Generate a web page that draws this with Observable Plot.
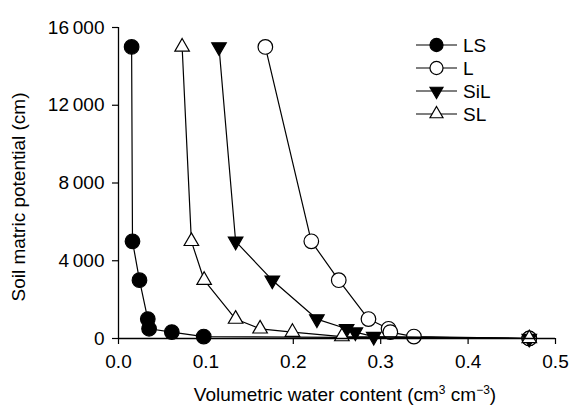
<!DOCTYPE html>
<html><head><meta charset="utf-8">
<script src="https://cdn.jsdelivr.net/npm/d3@7"></script>
<script src="https://cdn.jsdelivr.net/npm/@observablehq/plot@0.6"></script>
<style>
body{margin:0;background:#fff;font-family:"Liberation Sans",Arial,sans-serif}
#chart{position:relative;width:575px;height:407px}
#chart svg{display:block}
#overlay{position:absolute;left:0;top:0;pointer-events:none}
</style>
</head><body><div id="chart"></div>
<script>
// Soil textures (series)
const soils = ["LS", "L", "SiL", "SL"];
// Soil matric potential (cm) at each measured point
const potential = [15000, 5000, 3000, 1000, 500, 330, 100, 0];
// Volumetric water content (cm3 cm-3) per soil, same order as potential
const thetaLS  = [0.015, 0.016, 0.024, 0.0335, 0.035, 0.061, 0.0975, 0.47];
const thetaL   = [0.168, 0.2206, 0.252, 0.286, 0.309, 0.311, 0.338, 0.47];
const thetaSiL = [0.115, 0.134, 0.176, 0.227, 0.261, 0.271, 0.292, 0.47];
const thetaSL  = [0.0728, 0.0834, 0.098, 0.134, 0.162, 0.199, 0.2556, 0.47];
// Axis ticks
const xTicks = [0, 0.1, 0.2, 0.3, 0.4, 0.5];
const yTicks = [0, 4000, 8000, 12000, 16000];

const thetaBySoil = {LS: thetaLS, L: thetaL, SiL: thetaSiL, SL: thetaSL};
const data = soils.flatMap(s => thetaBySoil[s].map((t, i) => ({soil: s, theta: t, h: potential[i]})));

const markerStyle = {
  LS:  {symbol: "circle",   fill: "black", r: 7.3, rotate: 0},
  L:   {symbol: "circle",   fill: "white", r: 7.3, rotate: 0},
  SiL: {symbol: "triangle", fill: "black", r: 5.4, rotate: 180},
  SL:  {symbol: "triangle", fill: "white", r: 5.4, rotate: 0}
};

const W = 575, H = 407;
const font = "'Liberation Sans', Arial, sans-serif";
const fmtY = d => d3.format(",")(d).replace(/,/g, "\u2009");

const seriesMarks = soils.flatMap(s => {
  const rows = data.filter(d => d.soil === s);
  const st = markerStyle[s];
  return [
    Plot.line(rows, {x: "theta", y: "h", stroke: "black", strokeWidth: 1.2}),
    Plot.dot(rows, {x: "theta", y: "h", symbol: () => st.symbol, r: st.r, fill: st.fill,
      stroke: "black", strokeWidth: 1.2, rotate: st.rotate})
  ];
});

const plot = Plot.plot({
  width: W, height: H,
  marginLeft: 118, marginRight: 20, marginTop: 27, marginBottom: 69,
  style: {fontFamily: font, fontSize: "19px", color: "black", background: "white", overflow: "visible"},
  x: {domain: [0, 0.5]},
  y: {domain: [0, 16000]},
  symbol: {type: "identity"},
  marks: [
    Plot.axisX({ticks: xTicks, tickFormat: d3.format(".1f"), tickSize: 6, tickPadding: 10, label: null, fontSize: 19, strokeWidth: 1.2}),
    Plot.axisY({ticks: yTicks, tickFormat: fmtY, tickSize: 6, tickPadding: 8, label: null, fontSize: 19, strokeWidth: 1.2}),
    Plot.ruleX([0], {stroke: "black", strokeWidth: 1.3}),
    ...seriesMarks,
    Plot.ruleY([0], {stroke: "black", strokeWidth: 1.3})
  ]
});
document.getElementById("chart").appendChild(plot);

// Overlay: axis titles with superscripts, and legend
const svg = d3.select("#chart").append("svg").attr("id", "overlay")
  .attr("width", W).attr("height", H)
  .style("font-family", font).style("font-size", "19px");

const xt = svg.append("text").attr("x", 345).attr("y", 401).attr("text-anchor", "middle").attr("fill", "black");
xt.append("tspan").text("Volumetric water content (cm");
xt.append("tspan").text("3").attr("font-size", "12px").attr("dy", "-7");
xt.append("tspan").text(" cm").attr("dy", "7");
xt.append("tspan").text("\u22123").attr("font-size", "12px").attr("dy", "-7");
xt.append("tspan").text(")").attr("dy", "7");

svg.append("text").attr("transform", "translate(25,197) rotate(-90)")
  .attr("text-anchor", "middle").attr("fill", "black")
  .text("Soil matric potential (cm)");

const legendY0 = 45, legendStep = 23;
const sym = {circle: d3.symbolCircle, triangle: d3.symbolTriangle};
soils.forEach((s, i) => {
  const st = markerStyle[s];
  const g = svg.append("g").attr("transform", `translate(0,${legendY0 + i * legendStep})`);
  g.append("line").attr("x1", 416).attr("x2", 457).attr("y1", 0).attr("y2", 0)
    .attr("stroke", "black").attr("stroke-width", 1.2);
  g.append("path").attr("d", d3.symbol(sym[st.symbol], Math.PI * st.r * st.r * 0.8)())
    .attr("transform", `translate(436.5,0) rotate(${st.rotate})`)
    .attr("fill", st.fill).attr("stroke", "black").attr("stroke-width", 1.2);
  g.append("text").attr("x", 463).attr("y", 0).attr("dy", "0.36em").attr("fill", "black").text(s);
});
</script>
</body></html>
